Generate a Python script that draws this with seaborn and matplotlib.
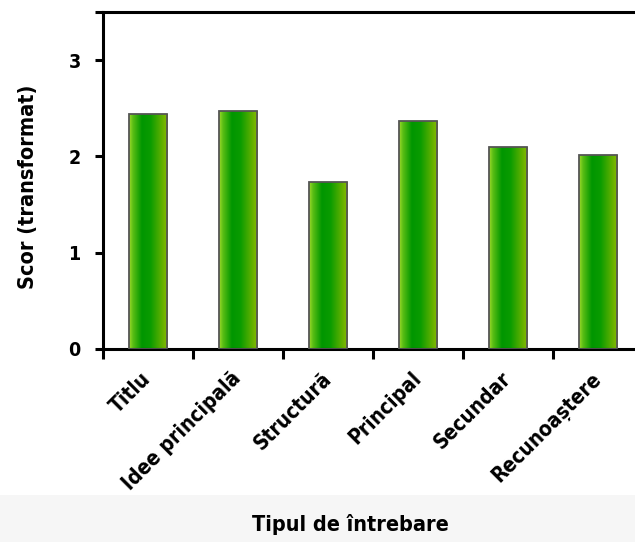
import numpy as np
import pandas as pd
import matplotlib
matplotlib.use("Agg")
import matplotlib.pyplot as plt
from matplotlib.colors import LinearSegmentedColormap
from matplotlib.patches import Rectangle
from matplotlib.ticker import FixedLocator
from matplotlib.transforms import ScaledTranslation
import seaborn as sns

categories = ["Titlu", "Idee principală", "Structură", "Principal", "Secundar", "Recunoaștere"]
scores = [2.44, 2.47, 1.73, 2.37, 2.10, 2.02]
y_ticks = [0, 1, 2, 3, 3.5]
y_tick_labels = ["0", "1", "2", "3", ""]

df = pd.DataFrame({"Tipul de întrebare": categories, "Scor": scores})

sns.set_theme(style="white")
plt.rcParams["font.family"] = ["DejaVu Sans"]
plt.rcParams["font.stretch"] = "condensed"
plt.rcParams["font.weight"] = "bold"
plt.rcParams["text.color"] = "black"
plt.rcParams["axes.labelcolor"] = "black"
plt.rcParams["xtick.color"] = "black"
plt.rcParams["ytick.color"] = "black"

W, H = 635, 542
fig = plt.figure(figsize=(W / 100, H / 100), dpi=100)
fig.patch.set_facecolor("white")

# light band behind the x-axis title
fig.patches.append(Rectangle((0, 0), 1, (H - 495) / H, transform=fig.transFigure,
                             facecolor="#f6f6f6", edgecolor="none", zorder=-10))

ax = fig.add_axes([103 / W, 1 - 349 / H, 540 / W, 337 / H])
ax.set_facecolor("none")

sns.barplot(data=df, x="Tipul de întrebare", y="Scor", ax=ax, width=0.43,
            color="#22a000", edgecolor="#555555", linewidth=1.3, zorder=3)

# horizontal green shading inside each bar
cmap = LinearSegmentedColormap.from_list(
    "bar_green",
    [(0.0, "#a0dc2c"), (0.1, "#5abe14"), (0.33, "#009600"),
     (0.55, "#0a9c00"), (1.0, "#8cba00")])
grad = np.linspace(0, 1, 256).reshape(1, -1)
for p in ax.patches:
    x0, y0 = p.get_x(), p.get_y()
    w, h = p.get_width(), p.get_height()
    im = ax.imshow(grad, cmap=cmap, aspect="auto", extent=[x0, x0 + w, y0, y0 + h],
                   interpolation="bicubic", zorder=2.5)
    im.set_clip_path(p)
    p.set_facecolor("none")

ax.set_xlim(-0.5, 5.5)
ax.set_ylim(0, 3.5)
ax.set_yticks(y_ticks)
ax.set_yticklabels(y_tick_labels)

# category labels at bar centres, boundary ticks between categories
ax.set_xticks(range(len(categories)))
ax.set_xticklabels(categories, rotation=45, ha="right", va="center", rotation_mode="anchor")
shift = ScaledTranslation(-4 / 100, 0, fig.dpi_scale_trans)
for lbl in ax.get_xticklabels():
    lbl.set_transform(lbl.get_transform() + shift)
ax.xaxis.set_minor_locator(FixedLocator(np.arange(-0.5, 5.6, 1.0)))
ax.tick_params(axis="x", which="major", length=0, pad=19, labelsize=15)
ax.tick_params(axis="x", which="minor", length=7, width=2.2, direction="out", color="black", bottom=True)
ax.tick_params(axis="y", length=6, width=2.2, direction="out", color="black", left=True, labelsize=14, pad=10)

for side in ["left", "bottom", "top"]:
    ax.spines[side].set_visible(True)
    ax.spines[side].set_color("black")
    ax.spines[side].set_linewidth(2.2)
ax.spines["right"].set_visible(False)

ax.set_xlabel("Tipul de întrebare", fontsize=15.5, fontweight="bold")
ax.xaxis.set_label_coords((350 - 103) / 540, -(514 - 349) / 337)
ax.set_ylabel("Scor (transformat)", fontsize=15.5, fontweight="bold")
ax.yaxis.set_label_coords(-(103 - 38) / 540, (349 - 187) / 337)

fig.savefig("out.png", dpi=100)
